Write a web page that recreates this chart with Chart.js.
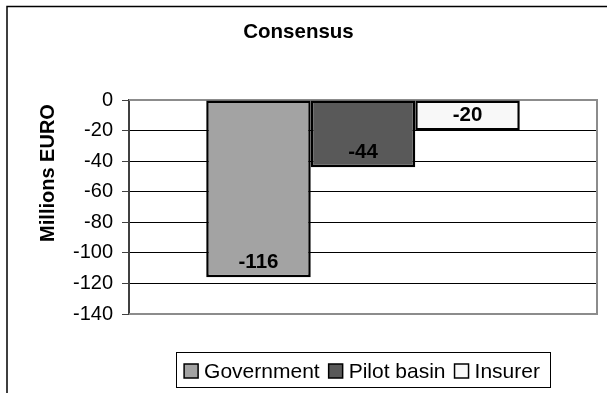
<!DOCTYPE html>
<html><head><meta charset="utf-8">
<script src="https://cdn.jsdelivr.net/npm/chart.js@4/dist/chart.umd.min.js"></script>
<style>html,body{margin:0;padding:0;background:#fff}#wrap{width:607px;height:393px}</style>
</head><body><div id="wrap"><canvas id="c" width="607" height="393"></canvas></div>
<script>
const categories = [''];
const seriesNames = ['Government', 'Pilot basin', 'Insurer'];
const governmentValues = [-116];
const pilotBasinValues = [-44];
const insurerValues = [-20];
const yTickValues = [0, -20, -40, -60, -80, -100, -120, -140];
const chartTitle = 'Consensus';
const yAxisTitle = 'Millions EURO';

const FONT = "'Liberation Sans', Arial, sans-serif";
const seriesColors = ['#a3a3a3', '#595959', '#f8f8f8'];
const seriesData = [governmentValues, pilotBasinValues, insurerValues];

const framePlugin = {
  id: 'frame',
  beforeDraw(chart) {
    const ctx = chart.ctx;
    ctx.save();
    ctx.fillStyle = '#fff';
    ctx.fillRect(0, 0, chart.width, chart.height);
    ctx.strokeStyle = '#000';
    ctx.lineWidth = 1.5;
    ctx.strokeRect(7, 6.5, 700, 500);
    ctx.restore();
  },
  beforeDatasetsDraw(chart) {
    const {ctx, chartArea: a} = chart;
    ctx.save();
    ctx.strokeStyle = '#8c8c8c';
    ctx.lineWidth = 2;
    ctx.beginPath();
    ctx.moveTo(a.left, a.top);
    ctx.lineTo(a.right, a.top);
    ctx.lineTo(a.right, a.bottom);
    ctx.lineTo(a.left, a.bottom);
    ctx.stroke();
    ctx.restore();
  },
  afterDatasetsDraw(chart) {
    const ctx = chart.ctx;
    ctx.save();
    ctx.fillStyle = '#000';
    ctx.font = 'bold 20.5px ' + FONT;
    ctx.textAlign = 'center';
    ctx.textBaseline = 'middle';
    chart.data.datasets.forEach((ds, i) => {
      const meta = chart.getDatasetMeta(i);
      meta.data.forEach((bar, j) => {
        ctx.fillText(String(ds.data[j]), bar.x, bar.y - 15);
      });
    });
    ctx.restore();
  },
  afterDraw(chart) {
    const ctx = chart.ctx;
    const a = chart.chartArea;
    ctx.save();
    ctx.fillStyle = '#000';
    ctx.font = 'bold 20px ' + FONT;
    ctx.textAlign = 'center';
    ctx.textBaseline = 'middle';
    ctx.translate(48, 173);
    ctx.rotate(-Math.PI / 2);
    ctx.fillText(yAxisTitle, 0, 0);
    ctx.restore();

    ctx.save();
    ctx.font = '21px ' + FONT;
    const sw = 14, gapT = 6, gapI = 9;
    const items = chart.data.datasets.map(d => ({label: d.label, color: d.backgroundColor, w: ctx.measureText(d.label).width}));
    let total = 0;
    items.forEach((it, k) => { total += sw + gapT + it.w + (k < items.length - 1 ? gapI : 0); });
    const cx = (a.left + a.right) / 2 - 1;
    let x = cx - total / 2;
    const cy = 371;
    ctx.strokeStyle = '#000';
    ctx.lineWidth = 1;
    ctx.strokeRect(Math.round(x - 8) + 0.5, 352.5, Math.round(total + 18), 35);
    ctx.textBaseline = 'middle';
    ctx.textAlign = 'left';
    items.forEach(it => {
      ctx.fillStyle = it.color;
      ctx.fillRect(x, cy - 7, sw, sw);
      ctx.lineWidth = 1.5;
      ctx.strokeRect(x, cy - 7, sw, sw);
      ctx.fillStyle = '#000';
      ctx.fillText(it.label, x + sw + gapT, cy + 1);
      x += sw + gapT + it.w + gapI;
    });
    ctx.restore();
  }
};

new Chart(document.getElementById('c'), {
  type: 'bar',
  data: {
    labels: categories,
    datasets: seriesNames.map((n, i) => ({
      label: n,
      data: seriesData[i],
      backgroundColor: seriesColors[i],
      borderColor: '#000',
      borderWidth: 2.5,
      borderSkipped: false,
      categoryPercentage: 0.67,
      barPercentage: 1
    }))
  },
  options: {
    responsive: false,
    devicePixelRatio: 1,
    animation: false,
    layout: {padding: {left: 0, right: 10, top: 0, bottom: 79}},
    plugins: {
      legend: {display: false},
      tooltip: {enabled: false},
      title: {
        display: true,
        text: chartTitle,
        color: '#000',
        font: {family: FONT, size: 20.5, weight: 'bold'},
        padding: {top: 20.2, bottom: 55.2}
      }
    },
    scales: {
      x: {display: false},
      y: {
        min: -140,
        max: 0,
        afterBuildTicks: s => { s.ticks = yTickValues.map(v => ({value: v})); },
        afterFit: s => { s.width = 129; },
        ticks: {color: '#000', font: {family: FONT, size: 20}, padding: 9},
        grid: {
          color: c => (c.tick && (c.tick.value === 0 || c.tick.value === -140)) ? '#8c8c8c' : '#000',
          lineWidth: 1,
          tickLength: 7,
          tickColor: '#404040'
        },
        border: {color: '#404040', width: 2}
      }
    }
  },
  plugins: [framePlugin]
});
</script>
</body></html>
